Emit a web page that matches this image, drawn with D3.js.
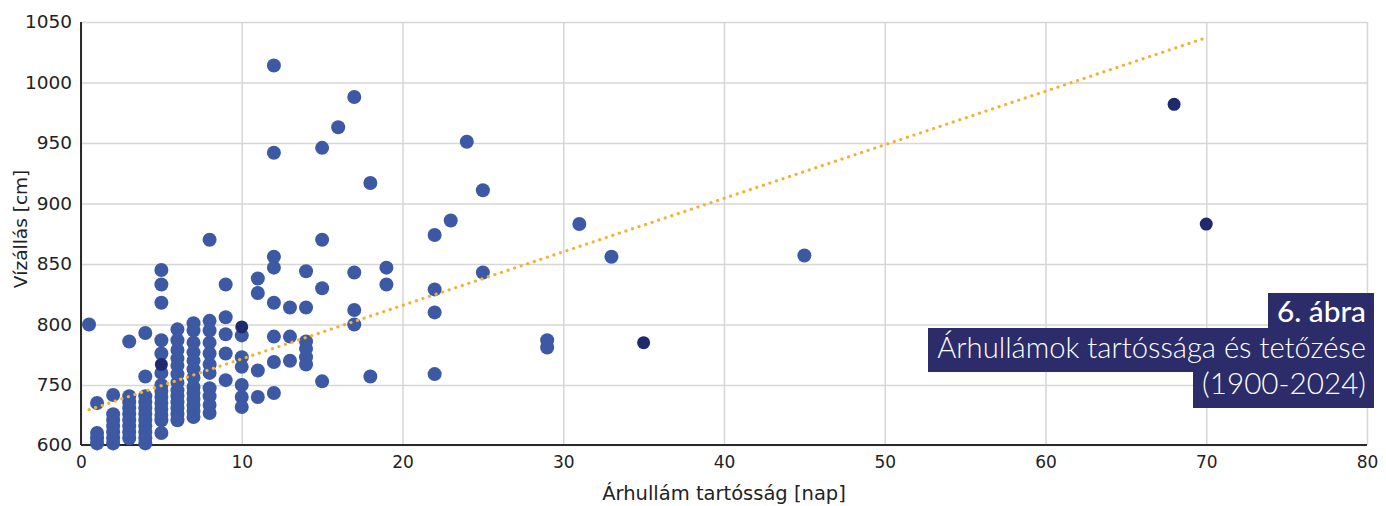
<!DOCTYPE html>
<html>
<head>
<meta charset="utf-8">
<script src="https://cdn.jsdelivr.net/npm/d3@7"></script>
<style>
  body { margin: 0; background: #fff; }
  .tick text { font-family: "DejaVu Sans", Verdana, sans-serif; fill: #222; }
  .grid line { stroke: #d6d6d6; stroke-width: 1.5; }
</style>
</head>
<body>
<svg id="chart" width="1386" height="506"></svg>
<script>
// Flood wave duration [days] and peak water level [cm]
const duration = [
  0.5,
  1, 1, 1, 1,
  2, 2, 2, 2, 2, 2, 2,
  3, 3, 3, 3, 3, 3, 3, 3, 3,
  4, 4, 4, 4, 4, 4, 4, 4, 4, 4, 4,
  5, 5, 5, 5, 5, 5, 5, 5, 5, 5, 5, 5, 5, 5,
  6, 6, 6, 6, 6, 6, 6, 6, 6, 6, 6, 6, 6,
  7, 7, 7, 7, 7, 7, 7, 7, 7, 7, 7, 7, 7,
  8, 8, 8, 8, 8, 8, 8, 8, 8, 8, 8,
  9, 9, 9, 9, 9,
  10, 10, 10, 10, 10, 10,
  11, 11, 11, 11,
  12, 12, 12, 12, 12, 12, 12, 12,
  13, 13, 13,
  14, 14, 14, 14, 14, 14,
  15, 15, 15, 15,
  16,
  17, 17, 17, 17,
  18, 18,
  19, 19,
  22, 22, 22, 22,
  23, 24, 25, 25,
  29, 29, 31, 33, 45
];
const waterLevel = [
  800,
  705, 630, 617, 604,
  725, 677, 662, 647, 632, 617, 604,
  786, 722, 707, 692, 677, 662, 647, 632, 617,
  793, 757, 722, 707, 692, 677, 662, 647, 632, 617, 604,
  845, 833, 818, 787, 776, 760, 750, 735, 720, 705, 690, 675, 662, 630,
  796, 787, 779, 772, 766, 759, 752, 737, 722, 707, 692, 677, 662,
  801, 795, 785, 777, 770, 763, 756, 745, 730, 715, 700, 685, 670,
  870, 803, 795, 785, 776, 767, 760, 742, 722, 700, 680,
  833, 806, 792, 776, 754,
  791, 773, 765, 750, 720, 695,
  838, 826, 762, 720,
  1014, 942, 856, 847, 818, 790, 769, 730,
  814, 790, 770,
  844, 814, 786, 780, 773, 767,
  946, 870, 830, 753,
  963,
  988, 843, 812, 800,
  917, 757,
  847, 833,
  874, 829, 810, 759,
  886, 951, 911, 843,
  787, 781, 883, 856, 857
];
// points drawn in the darker shade
const darkDuration = [5, 10, 35, 68, 70];
const darkLevel = [767, 798, 785, 982, 883];

// linear trend line end points
const trendDuration = [0.5, 70];
const trendLevel = [688, 1037];

const xTicks = [0, 10, 20, 30, 40, 50, 60, 70, 80];
const yTicks = [600, 750, 800, 850, 900, 950, 1000, 1050];

const titleLines = ["6. ábra", "Árhullámok tartóssága és tetőzése", "(1900-2024)"];

const svg = d3.select('#chart');
const margin = { top: 22, right: 19, bottom: 61, left: 81 };
const width = +svg.attr('width') - margin.left - margin.right;
const height = +svg.attr('height') - margin.top - margin.bottom;

const g = svg.append('g').attr('transform', `translate(${margin.left},${margin.top})`);

const x = d3.scaleLinear().domain([0, 80]).range([0, width]);
// the axis jumps from 600 straight to 750, one grid step
const y = d3.scaleLinear().domain([600, 750, 1050]).range([height, height - 60, 0]);

// grid + ticks
g.append('g')
  .attr('class', 'grid')
  .attr('transform', `translate(0,${height})`)
  .call(d3.axisBottom(x).tickValues(xTicks).tickFormat(d3.format('d')).tickSize(-height).tickPadding(11))
  .call(a => a.select('.domain').remove())
  .selectAll('text').style('font-size', '17px');

g.append('g')
  .attr('class', 'grid')
  .call(d3.axisLeft(y).tickValues(yTicks).tickFormat(d3.format('d')).tickSize(-width).tickPadding(9))
  .call(a => a.select('.domain').remove())
  .selectAll('text').style('font-size', '18.5px');

// axis lines
g.append('line').attr('x1', 0).attr('x2', 0).attr('y1', 0).attr('y2', height)
  .attr('stroke', '#2a2a2a').attr('stroke-width', 2);
g.append('line').attr('x1', 0).attr('x2', width).attr('y1', height).attr('y2', height)
  .attr('stroke', '#2a2a2a').attr('stroke-width', 2);

// scatter points
const points = duration.map((d, i) => ({ d, v: waterLevel[i] }));
g.selectAll('circle.pt').data(points)
  .enter().append('circle')
    .attr('class', 'pt')
    .attr('cx', p => x(p.d))
    .attr('cy', p => y(p.v))
    .attr('r', 7)
    .attr('fill', '#3e59a3');

const darkPoints = darkDuration.map((d, i) => ({ d, v: darkLevel[i] }));
g.selectAll('circle.dk').data(darkPoints)
  .enter().append('circle')
    .attr('class', 'dk')
    .attr('cx', p => x(p.d))
    .attr('cy', p => y(p.v))
    .attr('r', 6.5)
    .attr('fill', '#1f2a6e');

// dotted trend line (straight on screen)
g.append('path')
  .datum(trendDuration.map((d, i) => [x(d), y(trendLevel[i])]))
  .attr('d', d3.line())
  .attr('fill', 'none')
  .attr('stroke', '#f2b233')
  .attr('stroke-width', 3.2)
  .attr('stroke-linecap', 'round')
  .attr('stroke-dasharray', '0.1,6.8');

// axis titles
svg.append('text')
  .attr('x', margin.left + width / 2)
  .attr('y', 500)
  .attr('text-anchor', 'middle')
  .style('font-family', '"DejaVu Sans", Verdana, sans-serif')
  .style('font-size', '19.5px')
  .attr('fill', '#222')
  .text('Árhullám tartósság [nap]');

svg.append('text')
  .attr('transform', `translate(27,${margin.top + 207}) rotate(-90)`)
  .attr('text-anchor', 'middle')
  .style('font-family', '"DejaVu Sans", Verdana, sans-serif')
  .style('font-size', '18.5px')
  .attr('fill', '#222')
  .text('Vízállás [cm]');

// figure caption boxes
const cap = svg.append('g');
const capRight = 1374;
const rows = [
  { text: titleLines[0], top: 293, h: 35, base: 322, size: 25, weight: 500, w: 89 },
  { text: titleLines[1], top: 328, h: 44, base: 358, size: 26, weight: 300, w: 429 },
  { text: titleLines[2], top: 372, h: 36, base: 394, size: 26, weight: 300, w: 164 }
];
rows.forEach(r => {
  const rect = cap.append('rect').attr('fill', '#2b2c69');
  const t = cap.append('text')
    .attr('x', capRight - 8)
    .attr('y', r.base)
    .attr('text-anchor', 'end')
    .style('font-family', 'Lato, "Open Sans", sans-serif')
    .style('font-weight', r.weight)
    .style('font-size', r.size + 'px')
    .attr('fill', '#fff')
    .text(r.text);
  // fit text to the width seen in the reference
  const len = t.node().getComputedTextLength();
  t.style('font-size', (r.size * r.w / len) + 'px');
  const w = r.w + 17;
  rect.attr('x', capRight - w).attr('y', r.top).attr('width', w).attr('height', r.h);
});
</script>
</body>
</html>
